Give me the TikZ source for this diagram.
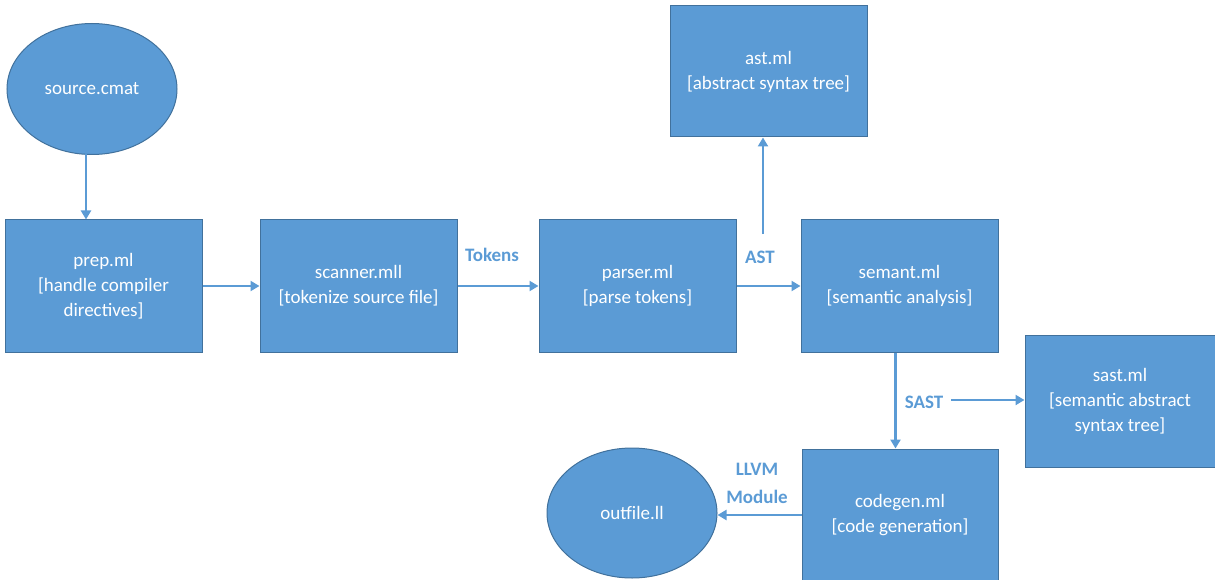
\documentclass[tikz,border=0pt]{standalone}
\usepackage{fontspec}
\setmainfont{Carlito}
\usetikzlibrary{shapes.geometric,arrows.meta}
\definecolor{boxfill}{HTML}{5B9BD5}
\definecolor{boxline}{HTML}{41719C}
\definecolor{arrowc}{HTML}{5B9BD5}
\tikzset{
  box/.style={draw=boxline, fill=boxfill, line width=1pt, rectangle, inner sep=0pt,
    minimum width=197pt, minimum height=132pt, align=center, text=white,
    font=\fontsize{19}{25}\selectfont},
  oval/.style={draw=boxline, fill=boxfill, line width=1pt, ellipse, inner sep=0pt,
    minimum width=170pt, minimum height=131pt, align=center, text=white,
    font=\fontsize{19}{25}\selectfont},
  conn/.style={draw=arrowc, line width=2.8pt, -{Triangle[length=9pt,width=10pt]}},
  lbl/.style={text=arrowc, font=\fontsize{19}{28}\selectfont\bfseries, align=center, inner sep=0pt}
}
\begin{document}
\begin{tikzpicture}[x=1pt,y=-1pt]
\useasboundingbox (0,0) rectangle (1215,580);
\node[oval] (source) at (92,89) {source.cmat};
\node[box] (prep) at (103.5,286) {prep.ml\\{}[handle compiler\\directives]};
\node[box] (scanner) at (358.5,286) {scanner.mll\\{}[tokenize source file]};
\node[box] (parser) at (637.5,286) {parser.ml\\{}[parse tokens]};
\node[box] (semant) at (899.5,286) {semant.ml\\{}[semantic analysis]};
\node[box, minimum height=131pt] (ast) at (768.5,71.5) {ast.ml\\{}[abstract syntax tree]};
\node[box, minimum width=190pt] (sast) at (1120,401) {sast.ml\\{}[semantic abstract\\syntax tree]};
\node[box, minimum width=196pt] (codegen) at (900,515) {codegen.ml\\{}[code generation]};
\node[oval, minimum height=130pt] (outfile) at (632,513) {outfile.ll};

\node[lbl] (tokens) at (492,255) {Tokens};
\node[lbl] (astlbl) at (760,257) {AST};
\node[lbl] (sastlbl) at (924,402) {SAST};
\node[lbl] (llvm) at (757,483) {LLVM\\Module};

\coordinate (srcout) at (86,154);
\coordinate (astfrom) at (763,234);
\coordinate (sastfrom) at (951,400);

\draw[conn] (srcout) -- (srcout |- prep.north);
\draw[conn] (prep.east) -- (scanner.west);
\draw[conn] (scanner.east) -- (parser.west);
\draw[conn] (parser.east) -- (semant.west);
\draw[conn] (astfrom) -- (astfrom |- ast.south);
\draw[conn] ([xshift=-4pt]semant.south) -- ([xshift=-4pt]semant.south |- codegen.north);
\draw[conn] (sastfrom) -- (sastfrom -| sast.west);
\draw[conn] (codegen.west) -- (codegen.west -| outfile.east);
\end{tikzpicture}
\end{document}
